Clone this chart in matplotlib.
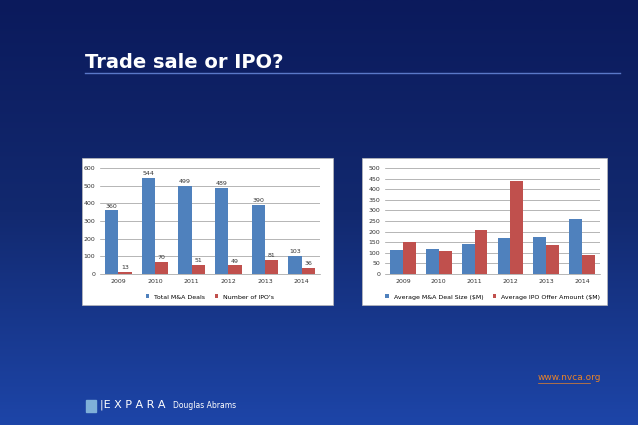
import matplotlib
matplotlib.use("Agg")
import matplotlib.pyplot as plt
import numpy as np
from matplotlib.colors import LinearSegmentedColormap

years = ["2009", "2010", "2011", "2012", "2013", "2014"]
ma_deals = [360, 544, 499, 489, 390, 103]
ipo_count = [13, 70, 51, 49, 81, 36]
ma_size = [115, 120, 143, 172, 176, 260]
ipo_amount = [153, 110, 207, 437, 138, 90]

W, H = 638, 425
fig = plt.figure(figsize=(W/100, H/100), dpi=100)
bg = fig.add_axes([0, 0, 1, 1])
grad = np.linspace(0, 1, 256)[:, None]
cm = LinearSegmentedColormap.from_list("g", ["#0b1a5c", "#12296f", "#1d45a8"])
bg.imshow(grad, aspect="auto", cmap=cm, extent=[0, 1, 0, 1], origin="upper")
bg.set_xlim(0, 1); bg.set_ylim(0, 1); bg.axis("off")

def fx(x): return x / W
def fy(y): return 1 - y / H

bg.text(fx(85), fy(62), "Trade sale or IPO?", color="white", fontsize=14, fontweight="bold", va="center", ha="left")
bg.plot([fx(85), fx(620)], [fy(73), fy(73)], color="#5a78c8", lw=1)
bg.text(fx(538), fy(378), "www.nvca.org", color="#e8832a", fontsize=6.5, va="center", ha="left")
bg.plot([fx(538), fx(590)], [fy(383), fy(383)], color="#e8832a", lw=0.5)
bg.text(fx(100), fy(405), "|E X P A R A", color="white", fontsize=8, va="center", ha="left")
bg.text(fx(173), fy(405), "Douglas Abrams", color="white", fontsize=5.5, va="center", ha="left")
bg.add_patch(plt.Rectangle((fx(86), fy(412)), fx(10), 12/H, color="#7fb0d8"))

for x0, x1 in [(82, 333), (362, 607)]:
    bg.add_patch(plt.Rectangle((fx(x0), fy(305)), fx(x1-x0), (305-158)/H, facecolor="white", edgecolor="#bbbbbb", lw=0.5))

blue, red = "#4f81bd", "#c0504d"

def panel(l, r, vals1, vals2, ymax, step, lab1, lab2, annotate):
    ax = fig.add_axes([fx(l), fy(274), fx(r-l), (274-168)/H])
    x = np.arange(len(years))
    w = 0.36
    ax.bar(x - w/2, vals1, w, color=blue, label=lab1, zorder=3)
    ax.bar(x + w/2, vals2, w, color=red, label=lab2, zorder=3)
    if annotate:
        for i in range(len(x)):
            ax.text(x[i]-w/2, vals1[i]+10, str(vals1[i]), ha="center", va="bottom", fontsize=4.5, color="#333")
            ax.text(x[i]+w/2, vals2[i]+10, str(vals2[i]), ha="center", va="bottom", fontsize=4.5, color="#333")
    ax.set_ylim(0, ymax)
    ax.set_xlim(-0.5, 5.5)
    ax.set_yticks(np.arange(0, ymax+1, step))
    ax.set_xticks(x, years)
    ax.tick_params(labelsize=4.5, length=0, colors="#333")
    ax.grid(axis="y", color="#999", lw=0.5, zorder=0)
    for s in ["top", "right", "left"]:
        ax.spines[s].set_visible(False)
    ax.spines["bottom"].set_color("#999"); ax.spines["bottom"].set_linewidth(0.5)
    ax.set_facecolor("white")
    ax.legend(loc="upper center", bbox_to_anchor=(0.5, -0.14), ncol=2, fontsize=4.5, frameon=False,
              handlelength=0.6, handleheight=0.6, columnspacing=1.5)

panel(100, 320, ma_deals, ipo_count, 600, 100, "Total M&A Deals", "Number of IPO's", True)
panel(385, 600, ma_size, ipo_amount, 500, 50, "Average M&A Deal Size ($M)", "Average IPO Offer Amount ($M)", False)

fig.savefig("out.png", dpi=100)
